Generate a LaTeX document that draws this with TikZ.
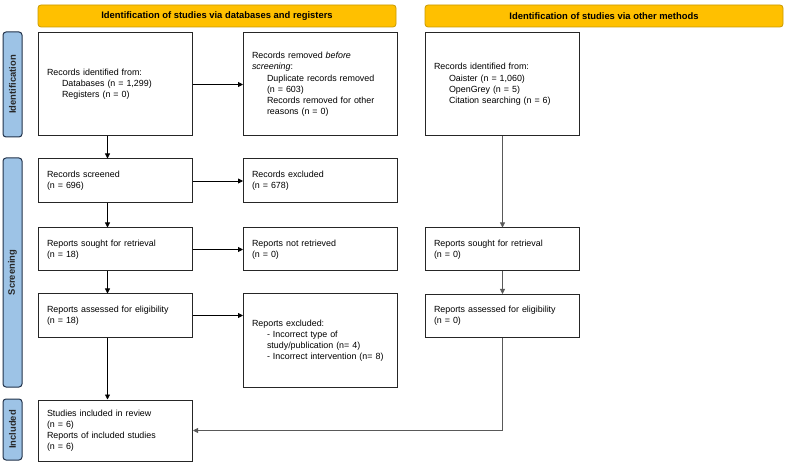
\documentclass[tikz,border=0pt]{standalone}
\usepackage{fontspec}
\setmainfont{Liberation Sans}
\usetikzlibrary{arrows.meta}
\definecolor{bannerfill}{HTML}{FFC000}
\definecolor{bannerdraw}{HTML}{C99A00}
\definecolor{sidefill}{HTML}{9DC3E6}
\definecolor{sidedraw}{HTML}{22324A}
\begin{document}
\begin{tikzpicture}[x=1pt,y=-1pt,
  box/.style={draw=black!85, line width=1pt, fill=white, align=left, anchor=center,
    inner xsep=8.5pt, inner ysep=3pt, font=\fontsize{8.9}{11.2}\selectfont, text width=#1},
  box/.default=137pt,
  banner/.style={draw=bannerdraw, fill=bannerfill, rounded corners=3pt, line width=0.8pt,
    font=\bfseries\fontsize{9.4}{10}\selectfont, minimum height=22pt, inner sep=0pt},
  side/.style={draw=sidedraw, fill=sidefill, rounded corners=3pt, line width=1pt, rotate=90,
    font=\bfseries\fontsize{9.4}{10}\selectfont, minimum height=19pt, inner sep=0pt, text=black!85},
  arr/.style={draw=black, line width=0.8pt, -{Triangle[length=5pt,width=5pt]}},
  arrg/.style={draw=black!65, line width=0.8pt, -{Triangle[length=5pt,width=5pt]}}
]
\useasboundingbox (0,0) rectangle (787,462);
% banners
\node[banner, minimum width=358pt] (ban1) at (217,16) {Identification of studies via databases and registers};
\node[banner, minimum width=358pt] (ban2) at (604,16) {Identification of studies via other methods};
% side labels
\node[side, minimum width=105pt] (sid1) at (12.5,84.5) {Identification};
\node[side, minimum width=229pt] (sid2) at (12.5,272.5) {Screening};
\node[side, minimum width=61pt] (sid3) at (12.5,429.5) {Included};
% left column
\node[box, minimum height=103pt] (idf) at (115.5,84.5) {Records identified from:\\
\hspace*{15pt}Databases (n = 1,299)\\
\hspace*{15pt}Registers (n = 0)};
\node[box, minimum height=44pt] (scr) at (115.5,181) {Records screened\\(n = 696)};
\node[box, minimum height=43pt] (sgt) at (115.5,249.5) {Reports sought for retrieval\\(n = 18)};
\node[box, minimum height=43pt] (ass) at (115.5,315.5) {Reports assessed for eligibility\\(n = 18)};
\node[box, minimum height=61pt] (inc) at (115.5,430.5) {Studies included in review\\(n = 6)\\Reports of included studies\\(n = 6)};
% middle column
\node[box, minimum height=103pt] (rem) at (320.5,84.5) {Records removed \textit{before}\\\textit{screening}:\\
\hspace*{15pt}Duplicate records removed\\
\hspace*{15pt}(n = 603)\\
\hspace*{15pt}Records removed for other\\
\hspace*{15pt}reasons (n = 0)};
\node[box, minimum height=44pt] (exc) at (320.5,181) {Records excluded\\(n = 678)};
\node[box, minimum height=43pt] (nrt) at (320.5,249.5) {Reports not retrieved\\(n = 0)};
\node[box, minimum height=93pt] (rex) at (320.5,340.5) {Reports excluded:\\
\hspace*{15pt}- Incorrect type of\\
\hspace*{15pt}study/publication (n= 4)\\
\hspace*{15pt}- Incorrect intervention (n= 8)};
% right column
\node[box, minimum height=103pt] (oth) at (502.5,84.5) {Records identified from:\\
\hspace*{15pt}Oaister (n = 1,060)\\
\hspace*{15pt}OpenGrey (n = 5)\\
\hspace*{15pt}Citation searching (n = 6)};
\node[box, minimum height=43pt] (sgo) at (502.5,249.5) {Reports sought for retrieval\\(n = 0)};
\node[box, minimum height=43pt] (aso) at (502.5,316) {Reports assessed for eligibility\\(n = 0)};
% arrows
\draw[arr] (idf.east) -- (rem.west);
\draw[arr] (scr.east) -- (exc.west);
\draw[arr] (sgt.east) -- (nrt.west);
\draw[arr] (ass.east) -- (ass.east -| rex.west);
\draw[arr] ([xshift=-8pt]idf.south) -- ([xshift=-8pt]scr.north);
\draw[arr] ([xshift=-8pt]scr.south) -- ([xshift=-8pt]sgt.north);
\draw[arr] ([xshift=-8pt]sgt.south) -- ([xshift=-8pt]ass.north);
\draw[arr] ([xshift=-8pt]ass.south) -- ([xshift=-8pt]inc.north);
\draw[arrg] (oth.south) -- (sgo.north);
\draw[arrg] (sgo.south) -- (aso.north);
\draw[arrg] (aso.south) |- (inc.east);
\end{tikzpicture}
\end{document}
